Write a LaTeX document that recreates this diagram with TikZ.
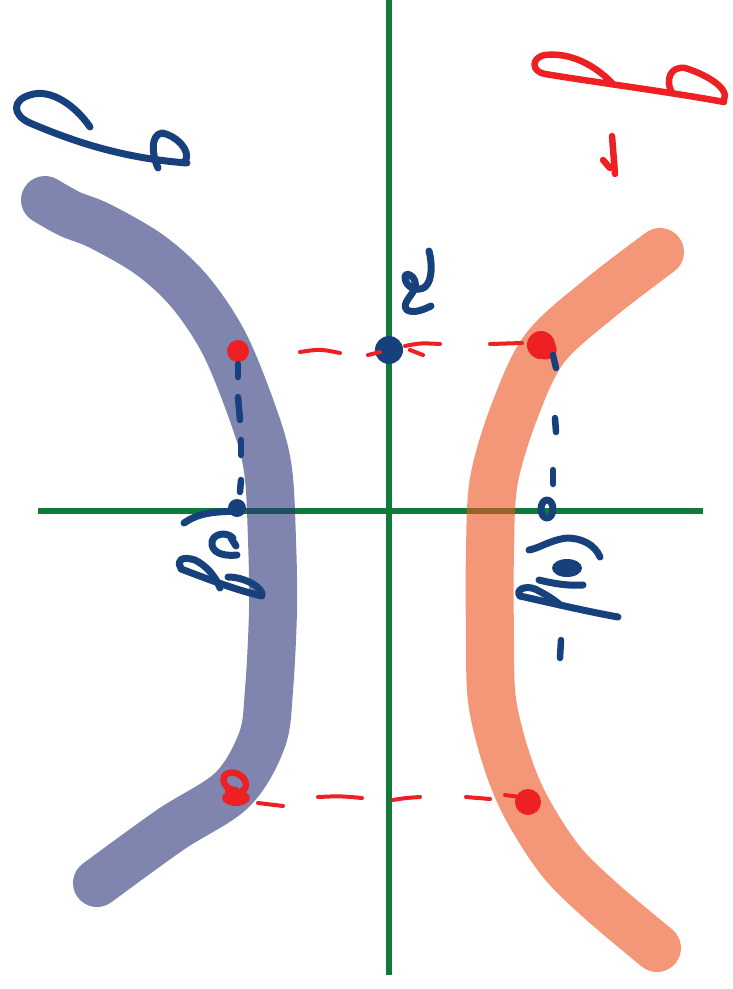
\documentclass[tikz,border=0pt]{standalone}
\begin{document}
\begin{tikzpicture}[x=1pt,y=-1pt,
  axis/.style={draw=axgreen,line width=5.5pt},
  band/.style={line width=48pt,line cap=round,line join=round,draw opacity=0.6},
  blueink/.style={draw=inkblue,line width=7pt,line cap=round,line join=round},
  redink/.style={draw=inkred,line width=6.5pt,line cap=round,line join=round},
  reddash/.style={draw=inkred,line width=4pt,line cap=round},
  bluedash/.style={draw=inkblue,line width=6.5pt,line cap=round}]
\definecolor{axgreen}{RGB}{16,122,58}
\definecolor{inkblue}{RGB}{22,65,125}
\definecolor{inkred}{RGB}{237,32,36}
\definecolor{bandblue}{RGB}{43,53,120}
\definecolor{bandred}{RGB}{238,83,30}
\useasboundingbox[fill=white] (0,0) rectangle (732,989);
% axes
\draw[axis] (389,0) -- (389,975);
\draw[axis] (38,511) -- (703,511);
% bands
\draw[band,draw=bandblue] plot[smooth,tension=0.55] coordinates {(45,200) (70,214) (100,226) (150,255) (190,292) (225,345) (255,420) (268,470) (272,540) (273,610) (269,690) (262,740) (232,790) (170,830) (97,883)};
\draw[band,draw=bandred] plot[smooth,tension=0.55] coordinates {(660,252) (600,298) (545,348) (515,410) (494,480) (490,550) (490,640) (492,700) (505,755) (525,805) (560,860) (600,900) (657,948)};
% red dashed horizontal lines
\draw[reddash] (300,352) .. controls (320,349) .. (340,353);
\draw[reddash] (405,346) .. controls (420,343) .. (440,344);
\draw[reddash] (410,350) -- (423,355);
\draw[reddash] (490,344) -- (522,343);
\draw[reddash] (258,803) -- (283,806);
\draw[reddash] (318,797) .. controls (340,796) .. (362,798);
\draw[reddash] (393,800) .. controls (405,798) .. (420,797);
\draw[reddash] (466,797) -- (490,799);
\draw[reddash] (505,795) -- (520,797);
% red dots
\fill[inkred] (238,351) circle (11);
\fill[inkred] (541,345) circle (14);
\draw[redink] (545,340) .. controls (558,345) and (555,358) .. (543,356);
\fill[inkred] (528,802) circle (13);
\draw[redink] (236,790) .. controls (225,790) and (221,780) .. (225,775) .. controls (232,769) and (246,775) .. (246,785) .. controls (246,793) and (232,795) .. (228,792);
\fill[inkred] (236,798) ellipse (14 and 8);
% blue dot on axis
\fill[inkblue] (389,350) circle (14);
\draw[reddash] (368,355) -- (380,352);
% blue dashed verticals
\draw[bluedash] (238,364) -- (238,377);
\draw[bluedash] (238,397) -- (240,420);
\draw[bluedash] (241,440) -- (241,455);
\draw[bluedash] (241,480) -- (240,492);
\draw[bluedash] (553,355) -- (556,368);
\draw[bluedash] (555,418) -- (556,432);
\draw[bluedash] (553,470) -- (553,482);
\draw[bluedash] (561,640) -- (560,658);
\draw[bluedash] (553,480) -- (553,484);
% blue mark on left axis
\fill[inkblue] (237,508) circle (9);
\draw[blueink] (184,523) .. controls (200,512) and (215,512) .. (238,511);
% blue oval on right axis
\draw[blueink] (547,509) ellipse (6 and 9);
% blue "x" above origin
\draw[blueink] (429,251) .. controls (432,262) and (433,280) .. (425,287) .. controls (418,292) and (406,288) .. (405,278) .. controls (404,270) and (418,276) .. (415,288) .. controls (412,296) and (401,304) .. (407,310) .. controls (414,314) and (425,309) .. (431,306);
% blue "p" top-left
\draw[blueink] (90,127) .. controls (75,105) and (50,88) .. (30,95) .. controls (12,100) and (12,115) .. (30,123) .. controls (70,140) and (120,158) .. (187,163);
\draw[blueink] (158,168) .. controls (152,155) and (150,135) .. (162,133) .. controls (175,135) and (192,150) .. (185,162);
% red "p" top-right
\draw[redink] (613,84) .. controls (595,65) and (570,52) .. (545,55) .. controls (530,58) and (532,72) .. (545,74) .. controls (600,83) and (670,92) .. (724,102);
\draw[redink] (672,93) .. controls (665,80) and (670,66) .. (685,68) .. controls (705,74) and (730,88) .. (724,100);
\draw[redink] (612,136) -- (615,174);
\draw[redink] (603,160) -- (610,168);
% left rotated label p(x
\draw[blueink] (233,538) .. controls (225,530) and (210,535) .. (212,545) .. controls (214,555) and (228,556) .. (237,555);
\draw[blueink] (231,538) -- (236,546);
\draw[blueink] (181,568) .. controls (176,560) and (182,556) .. (195,560) .. controls (205,565) and (215,575) .. (220,588);
\draw[blueink] (181,569) .. controls (200,576) and (235,590) .. (262,596) .. controls (264,588) and (245,577) .. (228,577);
% right rotated label -p(x)
\draw[blueink] (529,550) .. controls (540,548) and (550,540) .. (567,538) .. controls (582,538) and (595,545) .. (600,557);
\fill[inkblue] (567,568) ellipse (15 and 9);
\draw[blueink] (539,580) .. controls (555,584) and (570,586) .. (583,585);
\draw[blueink] (520,596) .. controls (515,590) and (525,585) .. (535,589) .. controls (545,594) and (555,600) .. (560,605);
\draw[blueink] (520,596) .. controls (560,605) and (590,612) .. (618,617);
\end{tikzpicture}
\end{document}
